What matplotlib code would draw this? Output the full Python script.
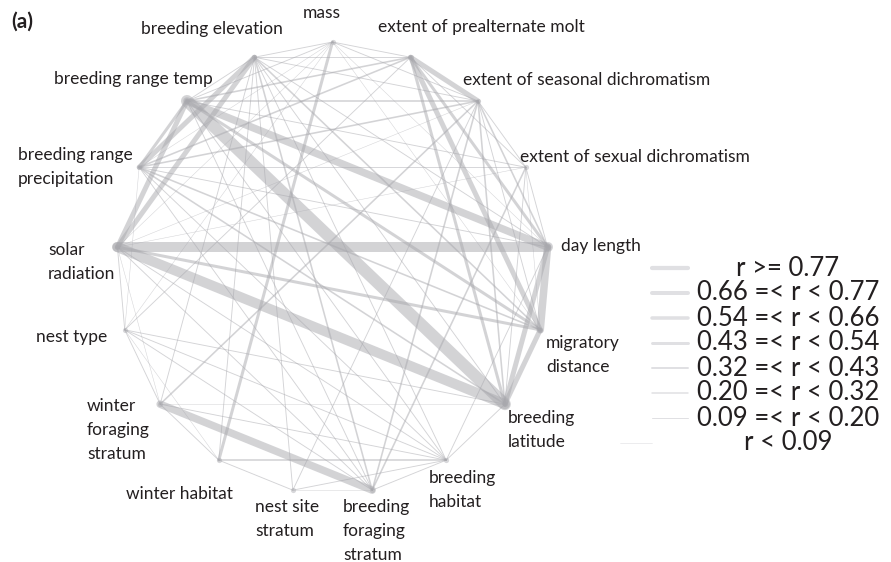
import numpy as np
import matplotlib.pyplot as plt

# trait network, correlations between traits
nodes = ["mass", "breeding elevation", "breeding range temp",
         "breeding range\nprecipitation", "solar\nradiation", "nest type",
         "winter\nforaging\nstratum", "winter habitat", "nest site\nstratum",
         "breeding\nforaging\nstratum", "breeding\nhabitat", "breeding\nlatitude",
         "migratory\ndistance", "day length", "extent of sexual dichromatism",
         "extent of seasonal dichromatism", "extent of prealternate molt"]

# (node a, node b, |r|)
edges = [
    (2, 11, 0.80),
    (4, 11, 0.70), (4, 13, 0.68),
    (2, 13, 0.62), (6, 9, 0.58), (12, 13, 0.58),
    (11, 13, 0.50), (11, 12, 0.50), (2, 4, 0.48), (1, 4, 0.46),
    (15, 16, 0.46), (12, 16, 0.45), (1, 3, 0.44),
    (2, 3, 0.38), (13, 16, 0.36), (11, 16, 0.35),
    (4, 12, 0.36), (0, 7, 0.34), (2, 12, 0.33),
    (2, 15, 0.25), (3, 15, 0.25), (2, 16, 0.25), (3, 16, 0.22),
    (6, 15, 0.28), (9, 15, 0.25), (9, 14, 0.22),
    (1, 9, 0.24), (7, 10, 0.25), (3, 12, 0.27), (3, 11, 0.26),
    (1, 12, 0.24), (15, 13, 0.22), (15, 11, 0.21),
    (8, 15, 0.18), (1, 10, 0.17), (1, 7, 0.18), (3, 10, 0.16),
    (1, 6, 0.17), (10, 13, 0.15), (10, 11, 0.16), (1, 13, 0.18),
    (15, 12, 0.17), (1, 11, 0.15),
    (0, 1, 0.12), (0, 2, 0.15), (0, 16, 0.12), (0, 15, 0.10),
    (5, 9, 0.15), (5, 10, 0.14), (5, 16, 0.13), (7, 8, 0.16),
    (8, 10, 0.15), (9, 10, 0.17), (6, 7, 0.14), (5, 6, 0.12),
    (4, 5, 0.10), (3, 13, 0.18), (2, 14, 0.15), (3, 14, 0.12),
    (13, 14, 0.16), (14, 15, 0.15), (14, 16, 0.12), (11, 14, 0.10),
    (1, 2, 0.18), (2, 10, 0.16), (2, 9, 0.15), (4, 9, 0.14),
    (4, 10, 0.15), (4, 14, 0.08), (3, 9, 0.13), (1, 16, 0.12),
    (1, 15, 0.16), (5, 11, 0.12), (6, 10, 0.13), (1, 8, 0.14),
    (0, 3, 0.05), (0, 4, 0.06), (0, 5, 0.04), (3, 5, 0.05),
    (5, 7, 0.06), (4, 6, 0.05), (8, 9, 0.06), (12, 14, 0.07),
    (0, 13, 0.05), (0, 12, 0.06), (4, 15, 0.07), (6, 11, 0.05),
]

thresholds = [0.09, 0.20, 0.32, 0.43, 0.54, 0.66, 0.77]
legend_labels = ["r >= 0.77", "0.66 =< r < 0.77", "0.54 =< r < 0.66",
                 "0.43 =< r < 0.54", "0.32 =< r < 0.43", "0.20 =< r < 0.32",
                 "0.09 =< r < 0.20", "r < 0.09"]

# widths (px) for class 0 (r < 0.09) .. class 7 (r >= 0.77)
edge_px = [0.5, 0.9, 1.6, 3.0, 5.0, 7.5, 10.0, 12.0]
legend_px = [0.6, 1.0, 1.5, 2.0, 3.0, 3.5, 4.0, 4.2]
pt = 72 / 100

plt.rcParams['font.family'] = ['Lato', 'DejaVu Sans']
fig = plt.figure(figsize=(8.91, 5.62), dpi=100)
ax = fig.add_axes([0, 0, 1, 1])
ax.set_xlim(0, 891)
ax.set_ylim(562, 0)
ax.axis('off')

# circular layout, first node at the top, going counter clockwise
n = len(nodes)
ang = np.deg2rad(90 + np.arange(n) * 360 / n)
cx, cy, rx, ry = 332.5, 268, 216, 226
xs = cx + rx * np.cos(ang)
ys = cy - ry * np.sin(ang)

edge_col = (0.66, 0.66, 0.68)
for a, b, r in sorted(edges, key=lambda e: e[2]):
    c = int(np.searchsorted(thresholds, r, side='right'))
    ax.plot([xs[a], xs[b]], [ys[a], ys[b]], color=edge_col, alpha=0.5,
            lw=edge_px[c] * pt, solid_capstyle='round', zorder=1)

ax.scatter(xs, ys, s=14, color=edge_col, alpha=0.45, lw=0, zorder=2)

# node labels
txt = dict(fontsize=12.5, color='#231f20', va='center', linespacing=1.6)
lab_pos = [(322, 13, 'center'), (212, 29, 'center'), (133, 79, 'center'),
           (18, 167, 'left'), (48, 262, 'left'), (36, 337, 'left'),
           (87, 430, 'left'), (126, 494, 'left'), (255, 519, 'left'),
           (343, 531, 'left'), (429, 490, 'left'), (508, 430, 'left'),
           (546, 355, 'left'), (561, 246, 'left'), (520, 157, 'left'),
           (463, 80, 'left'), (378, 27, 'left')]
for name, (lx, ly, ha) in zip(nodes, lab_pos):
    ax.text(lx, ly, name, ha=ha, **txt)

ax.text(11, 22, "(a)", fontsize=15, fontweight='bold', color='#231f20', va='center')

# legend for edge classes
leg_y = 268 + np.arange(8) * 25
for i, lab in enumerate(legend_labels):
    c = 7 - i
    x0, x1 = (652, 688) if c > 0 else (620, 652)
    ax.plot([x0, x1], [leg_y[i], leg_y[i]], color=(0.88, 0.88, 0.89),
            lw=legend_px[c] * pt, solid_capstyle='round')
    ax.text(788, leg_y[i], lab, fontsize=18.5, ha='center', va='center', color='#231f20')

fig.savefig("out.png", dpi=100)
